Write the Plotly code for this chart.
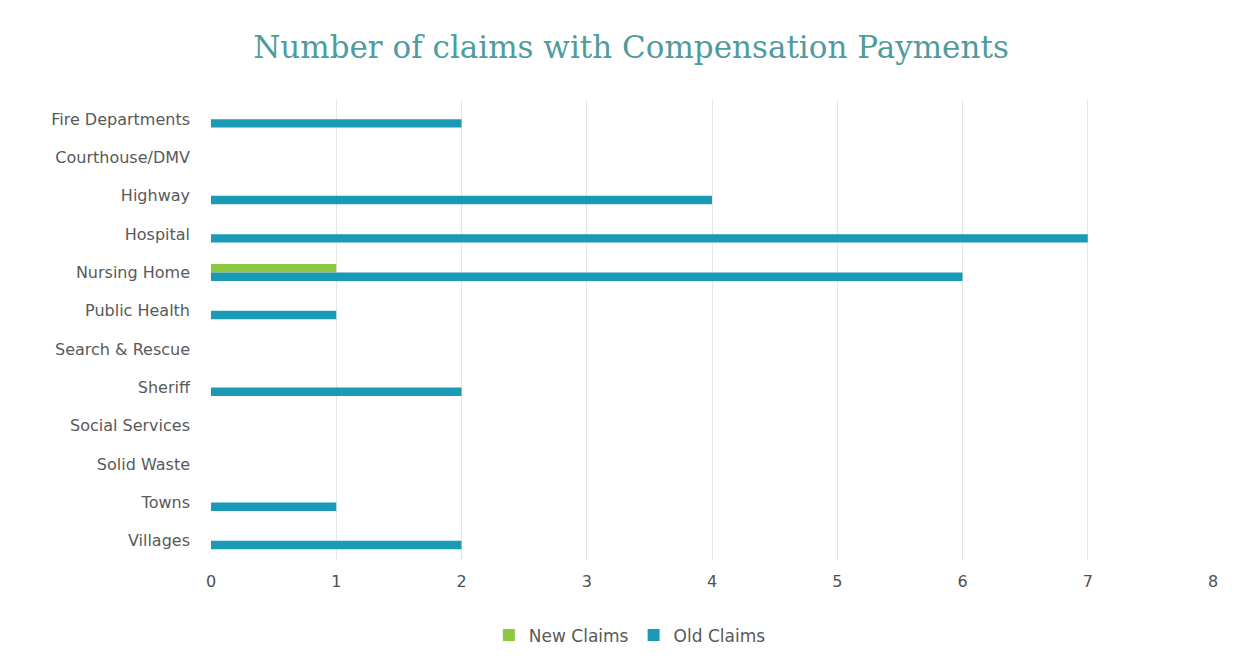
import plotly.graph_objects as go

categories = ["Fire Departments", "Courthouse/DMV", "Highway", "Hospital", "Nursing Home",
              "Public Health", "Search & Rescue", "Sheriff", "Social Services", "Solid Waste",
              "Towns", "Villages"]
new_claims = [0, 0, 0, 0, 1, 0, 0, 0, 0, 0, 0, 0]
old_claims = [2, 0, 4, 7, 6, 1, 0, 2, 0, 0, 1, 2]
x_ticks = [0, 1, 2, 3, 4, 5, 6, 7, 8]

fig = go.Figure()
fig.add_trace(go.Bar(y=categories, x=new_claims, orientation="h", name="New Claims",
                     marker=dict(color="#8dc63f", line=dict(width=0))))
fig.add_trace(go.Bar(y=categories, x=old_claims, orientation="h", name="Old Claims",
                     marker=dict(color="#1b9ab5", line=dict(width=0))))

fig.update_layout(
    width=1252, height=669,
    paper_bgcolor="white", plot_bgcolor="white",
    barmode="group", bargap=0.56, bargroupgap=0,
    margin=dict(l=211, r=39, t=100, b=109),
    title=dict(text="Number of claims with Compensation Payments", x=0.504, xanchor="center",
               y=0.93, yanchor="middle",
               font=dict(family="DejaVu Serif", size=31, color="#4f9c9e")),
    font=dict(family="DejaVu Sans", color="#595959", size=15),
    xaxis=dict(range=[0, 8], tickvals=x_ticks, showgrid=True, gridcolor="#e6e6e6",
               zeroline=False, showline=False, ticks="", ticklabelstandoff=10,
               tickfont=dict(size=16, color="#505050")),
    yaxis=dict(autorange="reversed", showgrid=False, zeroline=False, showline=False,
               ticks="", ticklabelstandoff=20, tickfont=dict(size=16, color="#595959")),
    legend=dict(orientation="h", x=0.418, xanchor="center",
                y=-0.125, yanchor="top",
                font=dict(size=17, color="#595959"), itemwidth=30, traceorder="normal"),
    showlegend=True,
)
fig.write_html("out.html")
